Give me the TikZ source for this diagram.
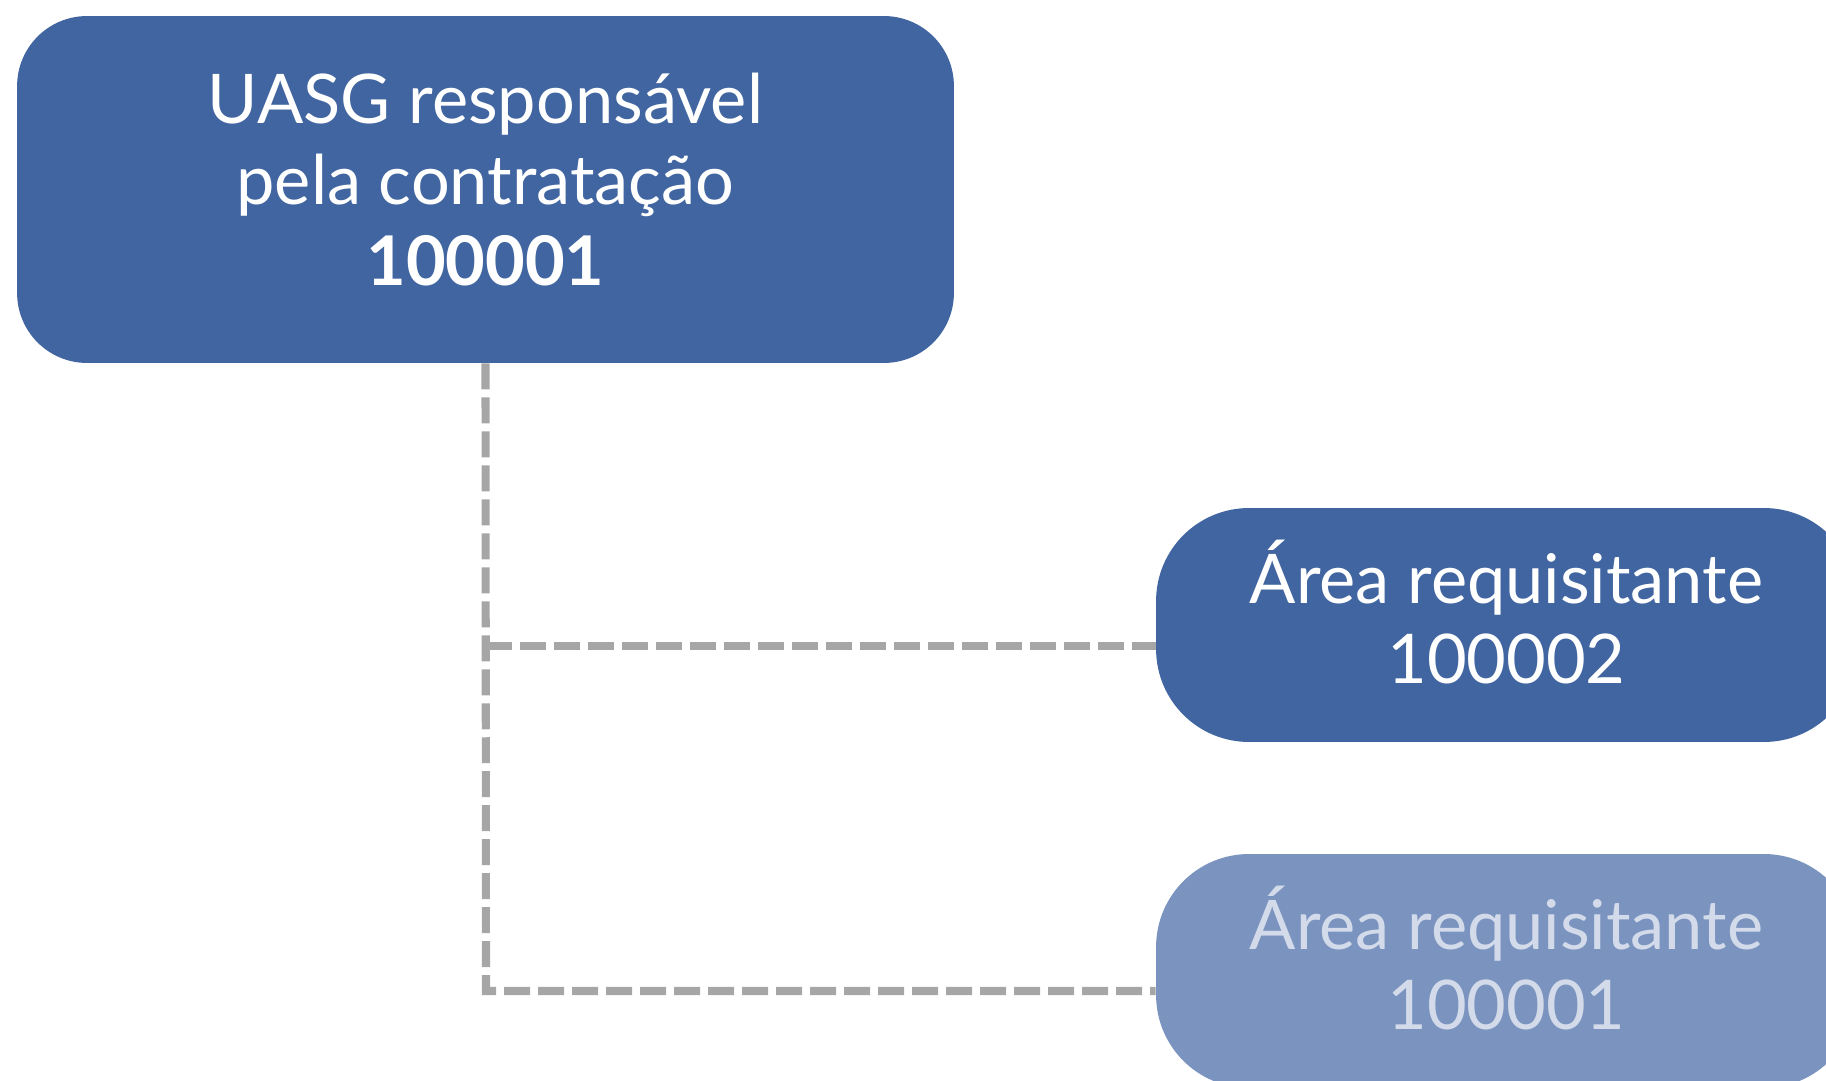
\documentclass[tikz,border=0pt]{standalone}
\usepackage{fontspec}
\setmainfont{Lato}
\usepackage{xcolor}
\usepackage{tikz}
\usetikzlibrary{positioning}

\definecolor{uasgblue}{HTML}{4165A0}
\definecolor{fadedblue}{HTML}{7A93BF}
\definecolor{fadedtext}{HTML}{D3DBEA}
\definecolor{linkgray}{HTML}{A6A6A6}

\tikzset{
  boxtext/.style={text=white, align=center, inner sep=0pt,
    font=\fontsize{39}{46}\selectfont},
  mainbox/.style={fill=uasgblue, rounded corners=1.4cm,
    minimum width=18.74cm, minimum height=6.94cm, inner sep=0pt},
  areabox/.style={fill=uasgblue, rounded corners=1.86cm,
    minimum width=14.02cm, minimum height=4.68cm, inner sep=0pt},
  areafaded/.style={areabox, fill=fadedblue},
  link/.style={draw=linkgray, line width=4.6pt, dash pattern=on 0.52cm off 0.16cm}
}

\begin{document}
\begin{tikzpicture}[x=0.02cm,y=-0.02cm]
            \useasboundingbox (0,0) rectangle (1826,1081);
            \clip (0,0) rectangle (1826,1081);
            \node [mainbox, label={[boxtext, yshift=0.2cm]center:{UASG responsável\\pela contratação\\\textbf{100001}}}] (uasg) at (485.5,189.5) {};
            \node [areabox, label={[boxtext, yshift=0.26cm]center:{Área requisitante\\100002}}] (area2) at (1506.5,625) {};
            \node [areafaded, label={[boxtext, text=fadedtext, yshift=0.26cm]center:{Área requisitante\\100001}}] (area1) at (1506.5,971) {};
            \coordinate (j1) at (486,646);
            \coordinate (j2) at (486,991);
            \draw [link](uasg.south)--(j2)--(j2 -| area1.west);
            \draw [link](j1)--(j1 -| area2.west);
            \end{tikzpicture}
\end{document}
